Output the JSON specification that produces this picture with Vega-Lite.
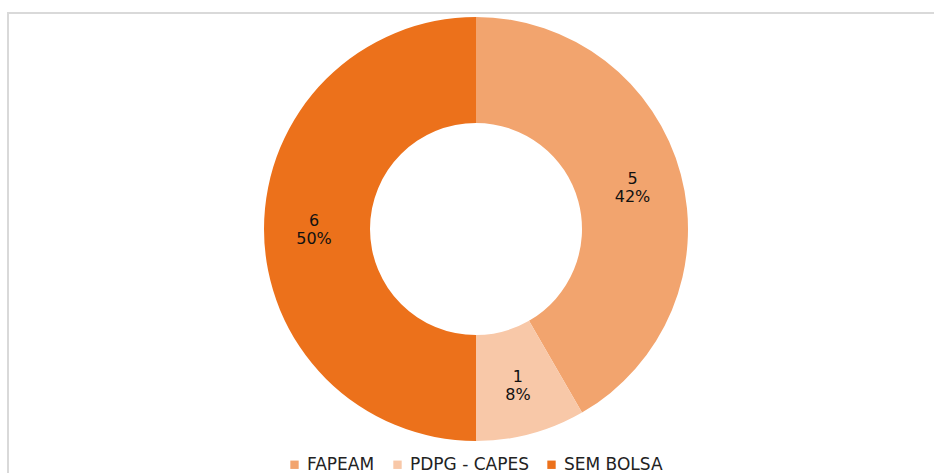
{
  "$schema": "https://vega.github.io/schema/vega-lite/v6.json",
  "width": 940,
  "height": 470,
  "autosize": {"type": "none"},
  "padding": {"left": 8, "top": 13, "right": 0, "bottom": 0},
  "background": "white",
  "view": {"stroke": "#d9d9d9", "strokeWidth": 2, "fill": "white"},
  "config": {
    "font": "DejaVu Sans"
  },
  "data": {
    "values": [
      {"category": "FAPEAM", "value": 5, "ord": 1},
      {"category": "PDPG - CAPES", "value": 1, "ord": 2},
      {"category": "SEM BOLSA", "value": 6, "ord": 3}
    ]
  },
  "transform": [
    {"joinaggregate": [{"op": "sum", "field": "value", "as": "total"}]},
    {"calculate": "datum.value + '\\n' + format(datum.value / datum.total, '.0%')", "as": "label"}
  ],
  "encoding": {
    "theta": {"field": "value", "type": "quantitative", "stack": true},
    "order": {"field": "ord", "type": "quantitative"}
  },
  "layer": [
    {
      "mark": {"type": "arc", "outerRadius": 212, "innerRadius": 106, "xOffset": -2, "yOffset": -19},
      "encoding": {
        "color": {
          "field": "category",
          "type": "nominal",
          "sort": ["FAPEAM", "PDPG - CAPES", "SEM BOLSA"],
          "scale": {"domain": ["FAPEAM", "PDPG - CAPES", "SEM BOLSA"], "range": ["#F2A46E", "#F8C8A8", "#EC711B"]},
          "legend": {
            "title": null,
            "orient": "none",
            "direction": "horizontal",
            "legendX": 278,
            "legendY": 443,
            "symbolType": "square",
            "symbolSize": 70,
            "symbolStrokeWidth": 0,
            "labelFontSize": 17,
            "labelColor": "#222222",
            "labelFont": "DejaVu Sans",
            "columnPadding": 14,
            "symbolOffset": 0,
            "labelOffset": 4
          }
        }
      }
    },
    {
      "mark": {"type": "text", "radius": 162, "xOffset": -2, "yOffset": -19, "dy": -8, "fontSize": 16, "color": "#111111", "lineBreak": "\n", "align": "center", "baseline": "middle", "lineHeight": 18},
      "encoding": {
        "text": {"field": "label", "type": "nominal"}
      }
    }
  ]
}
